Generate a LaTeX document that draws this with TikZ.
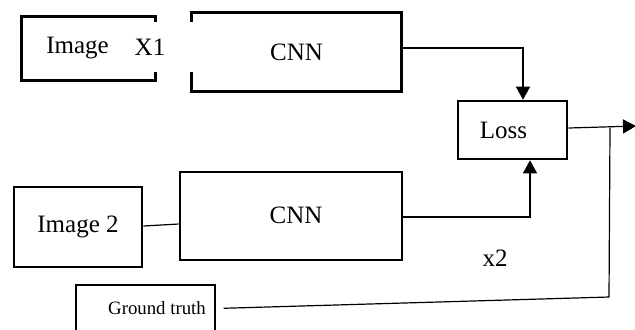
\documentclass[tikz,border=0pt]{standalone}
\usepackage{fontspec}
\setmainfont{Liberation Serif}
\usetikzlibrary{arrows.meta}

\begin{document}
\begin{tikzpicture}[
    x=0.5pt, y=-0.5pt,
    box/.style={rectangle, draw, line width=1.3pt, minimum width=#1, align=center, font=\fontsize{12.5}{15}\selectfont},
    open/.style={rectangle, minimum width=#1, align=center, font=\fontsize{12.5}{15}\selectfont},
    thin box/.style={rectangle, draw, line width=0.6pt, minimum width=#1, align=center, font=\fontsize{9.4}{11}\selectfont},
    lbl/.style={font=\fontsize{12.5}{15}\selectfont},
    wire/.style={line width=0.6pt},
    arrow/.style={wire, -{Triangle[length=6.5pt, width=7pt]}}
]
\useasboundingbox (0,0) rectangle (635,329);

% Inputs
\node[open=66.5pt, minimum height=31.5pt] (imgA) at (88.5,48.5) {Image\hspace{11pt}\mbox{}};
\node[box=64pt, minimum height=40pt] (imgB) at (78,227) {Image 2};
\node[thin box=69.5pt, minimum height=27.5pt] (truth) at (145.5,312.5) {\hspace{11.5pt}\raisebox{4.25pt}{Ground truth}};
\node[lbl] (xA) at (150,47) {X1};

% Networks
\node[open=104.5pt, minimum height=39pt] (cnnA) at (296.5,52) {CNN};
\node[box=111pt, minimum height=44pt] (cnnB) at (291,216) {\hspace{5pt}\raisebox{1pt}{CNN}};

% Loss
\node[box=54.5pt, minimum height=29pt] (loss) at (512.5,130) {Loss\hspace{9pt}\mbox{}};
\node[lbl] (xB) at (495,258) {x2};
\coordinate (out) at (636,126);
\coordinate (join) at (610,127.5);

% Broken outlines
\draw[line width=1.3pt] ([yshift=-2.5pt]imgA.north east) |- (imgA.north west)
    |- (imgA.south east) -- ++(0,4pt);
\draw[line width=1.3pt] ([yshift=-4.5pt]cnnA.north west) |- (cnnA.north east)
    |- (cnnA.south west) -- ++(0,9.5pt);

% Connections
\draw[arrow] ([yshift=2pt]cnnA.east) -| ([xshift=5.25pt]loss.north);
\draw[arrow] ([yshift=-0.5pt]cnnB.east) -| ([xshift=8.75pt]loss.south);
\draw[wire] ([yshift=0.5pt]imgB.east) -- ([yshift=-4pt]cnnB.west);
\draw[arrow] ([yshift=1pt]loss.east) -- (out);
\draw[wire, shorten <=4pt] ([yshift=2pt]truth.east) -- (609,297) -- (join);

\end{tikzpicture}
\end{document}
